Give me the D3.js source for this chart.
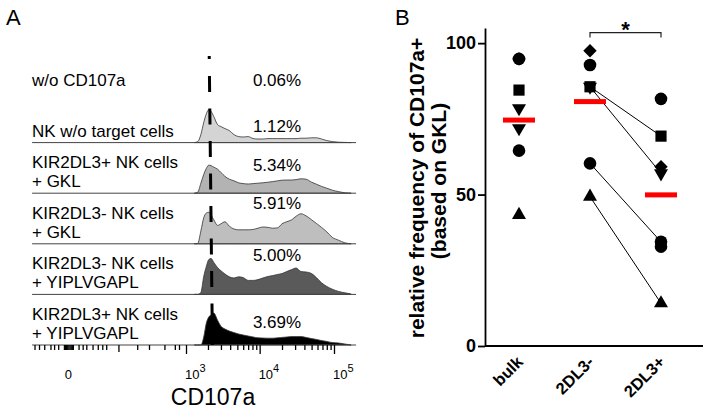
<!DOCTYPE html>
<html><head><meta charset="utf-8">
<script src="https://cdn.jsdelivr.net/npm/d3@7"></script>
<style>body{margin:0;background:#fff}svg{display:block}text{font-family:"Liberation Sans",Arial,sans-serif}</style>
</head><body><svg id="c" width="704" height="414"></svg>
<script>
// ================= Panel A data =================
const rowLabels = [["w/o CD107a"], ["NK w/o target cells"], ["KIR2DL3+ NK cells", "+ GKL"],
  ["KIR2DL3- NK cells", "+ GKL"], ["KIR2DL3- NK cells", "+ YIPLVGAPL"], ["KIR2DL3+ NK cells", "+ YIPLVGAPL"]];
const percentLabels = ["0.06%", "1.12%", "5.34%", "5.91%", "5.00%", "3.69%"];
const intensityBins = [1300,1450,1600,1750,1900,2050,2200,2400,2700,3000,3400,3900,4500,5200,6000,7000,8200,9500,
  11000,13000,15000,17500,20000,23000,27000,31000,36000,42000,50000,58000,68000,80000,95000,115000,140000,170000];
const countsNoTarget = [0,2.5,20,50,72,82,78,65,45,40,35,30,20,15,14,15,10,9,9,10,10,10,10,10,10,10,11,11,12,12,9,5,2.5,1,0.5,0];
const countsPlusGKL = [0,2.5,25,47,62,70,69,65,60,52,42,35,31,26,24,23,24,25,26,27.5,29,31,32.5,33,33,34,36,35,27.5,22.5,17,12.5,7.5,4,1,0];
const countsMinusGKL = [0,1,32,65,77,79,72,60,46,50,55,44,37,35,35,35,36,39,42,41,39,40,50,55,60,69,75,70,60,51,41,30,16,9,2.5,0];
const countsMinusYIP = [0,0,5,45,70,87,90,80,67,59,51,44,41,44,42,35,35,37,41,45,47,50,52,57,62,66,57,56,52,42,29,20,13,7.5,4,1];
const countsPlusYIP = [0,0,0,20,55,70,75,80,62,47,40,35,31,27.5,25,22.5,20,18,17.5,17,17,18,19,20,21,21,21,19,16,14,11,9,6,5,2.5,0];
const rowCounts = [null, countsNoTarget, countsPlusGKL, countsMinusGKL, countsMinusYIP, countsPlusYIP];
const gateValues = [2080, 2300];            // gate line (top, bottom)
const axisExtent = [-56, 198000];
const majorTicks = [1000, 10000, 100000];
const minorTicks = [-50,-40,-30,-20,-15,-10,-4,-3,-2,-1,0,1,2,3,4,10,15,20,30,40,50,60,200,300,500,700,800,
  2000,3000,4000,5000,6000,7000,8000,9000,20000,30000,40000,50000,60000,70000,80000,90000];
const midTicks = [100];
const tickLabelValues = [0, 1000, 10000, 100000];
const tickLabelExps = ["", "3", "4", "5"];

// ================= Panel B data =================
const categories = ["bulk", "2DL3-", "2DL3+"];
const bulkValues = [94.8, 94.8, 84.5, 78.5, 71.9, 64.5, 43.3];
const bulkShapes = ["circle", "diamond", "square", "triDown", "triDown", "circle", "triUp"];
const minusValues = [97.5, 92.8, 85.6, 85.6, 60.3, 49.3];
const minusShapes = ["diamond", "circle", "triDown", "square", "circle", "triUp"];
const plusValues = [81.6, 69.3, 59.2, 57.0, 34.4, 32.8, 14.1];
const plusShapes = ["circle", "square", "diamond", "triDown", "circle", "circle", "triUp"];
const pairs = [[3, 1], [2, 3], [4, 4], [5, 6]];   // 2DL3- index -> 2DL3+ index
const means = [74.6, 80.7, 49.9];
const yTicksB = [0, 50, 100];

// ================= Drawing =================
const svg = d3.select("#c");
const FONT = '"Liberation Sans", Arial, sans-serif';

svg.append("text").attr("x", 6).attr("y", 25).attr("font-size", 22).text("A");
svg.append("text").attr("x", 395).attr("y", 25).attr("font-size", 22).text("B");

// ---- Panel A ----
const xA = d3.scaleSymlog().constant(27).domain([1000, 100000]).range([186, 334]);
const rowY = d3.scalePoint().domain(d3.range(6)).range([92, 345]);
const hA = d3.scaleLinear().domain([0, 100]).range([0, 40]);
const fills = [null, "#d4d4d4", "#b3b3b3", "#bebebe", "#5a5a5a", "#000000"];
const pctOffsets = [-6, -11, -22, -35, -33, -17];

const gA = svg.append("g");
rowCounts.forEach((counts, i) => {
  const base = rowY(i);
  if (counts) {
    const area = d3.area()
      .x((d, j) => xA(intensityBins[j]))
      .y0(base).y1(d => base - hA(d))
      .curve(d3.curveMonotoneX);
    gA.append("path").datum(counts).attr("d", area)
      .attr("fill", fills[i]).attr("stroke", "#333").attr("stroke-width", 0.8);
    gA.append("line").attr("x1", xA(axisExtent[0])).attr("x2", xA(axisExtent[1]))
      .attr("y1", base).attr("y2", base).attr("stroke", "#444").attr("stroke-width", 1);
  }
  rowLabels[i].forEach((t, k) => {
    const n = rowLabels[i].length;
    gA.append("text").attr("x", 32).attr("y", base - 6 - (n - 1 - k) * 19)
      .attr("font-size", 17).text(t);
  });
  gA.append("text").attr("x", 277).attr("y", base + pctOffsets[i]).attr("text-anchor", "middle")
    .attr("font-size", 17).text(percentLabels[i]);
});

// gate line
const dashes = [3, 17].concat(d3.range(10).flatMap(() => [16, 16.5]));
gA.append("line").attr("x1", xA(gateValues[0])).attr("y1", 56)
  .attr("x2", xA(gateValues[1])).attr("y2", 345)
  .attr("stroke", "#000").attr("stroke-width", 3).attr("stroke-dasharray", dashes.join(","));

// axis ticks
const axisY = rowY(5);
const axMinor = d3.axisBottom(xA).tickValues(minorTicks).tickSize(5).tickFormat("");
const axMid = d3.axisBottom(xA).tickValues(midTicks).tickSize(7).tickFormat("");
const axMajor = d3.axisBottom(xA).tickValues(majorTicks).tickSize(9).tickFormat("");
[axMinor, axMid, axMajor].forEach(ax => {
  const g = gA.append("g").attr("transform", `translate(0,${axisY})`).call(ax);
  g.select(".domain").remove();
  g.selectAll(".tick line").attr("stroke", "#000").attr("stroke-width", 1.3);
});
tickLabelValues.forEach((v, i) => {
  const x = xA(v);
  if (tickLabelExps[i] === "") {
    gA.append("text").attr("x", x).attr("y", 379).attr("text-anchor", "middle").attr("font-size", 13).text("0");
  } else {
    const t = gA.append("text").attr("x", x - 1).attr("y", 379).attr("font-size", 13);
    t.append("tspan").text("10");
    t.append("tspan").attr("font-size", 11).attr("dy", -7).text(tickLabelExps[i]);
  }
});
gA.append("text").attr("x", 213).attr("y", 405).attr("text-anchor", "middle").attr("font-size", 23).text("CD107a");

// ---- Panel B ----
const yB = d3.scaleLinear().domain([0, 105]).range([346, 28]);
const xB = d3.scalePoint().domain(categories).range([519, 661]);
const gB = svg.append("g");

const axL = d3.axisLeft(yB).tickValues(yTicksB).tickSize(7).tickSizeOuter(0).tickPadding(2);
const gl = gB.append("g").attr("transform", "translate(485,0)").call(axL);
gl.select(".domain").attr("stroke", "#000").attr("stroke-width", 1.8);
gl.selectAll(".tick line").attr("stroke", "#000").attr("stroke-width", 1.8);
gl.selectAll(".tick text").attr("font-size", 18).attr("font-weight", "bold").attr("font-family", FONT).attr("fill", "#000");
gB.append("line").attr("x1", 485).attr("x2", 703).attr("y1", yB(0)).attr("y2", yB(0))
  .attr("stroke", "#000").attr("stroke-width", 1.8);

categories.forEach(c => {
  gB.append("text").attr("text-anchor", "end").attr("font-size", 16.5).attr("font-weight", "bold")
    .attr("transform", `translate(${xB(c) + 5},363) rotate(-45)`).text(c);
});

gB.append("text").attr("text-anchor", "middle").attr("font-size", 21).attr("font-weight", "bold")
  .attr("transform", "translate(424,188) rotate(-90)").text("relative frequency of CD107a+");
gB.append("text").attr("text-anchor", "middle").attr("font-size", 21).attr("font-weight", "bold")
  .attr("transform", "translate(446,181) rotate(-90)").text("(based on GKL)");

// pair lines
pairs.forEach(([a, b]) => {
  gB.append("line").attr("x1", xB("2DL3-")).attr("y1", yB(minusValues[a]))
    .attr("x2", xB("2DL3+")).attr("y2", yB(plusValues[b]))
    .attr("stroke", "#000").attr("stroke-width", 1);
});

// markers
const symbolDef = {
  circle: { type: d3.symbolCircle, size: 125, rot: 0 },
  square: { type: d3.symbolSquare, size: 125, rot: 0 },
  diamond: { type: d3.symbolSquare, size: 90, rot: 45 },
  triUp: { type: d3.symbolTriangle, size: 85, rot: 0 },
  triDown: { type: d3.symbolTriangle, size: 85, rot: 180 }
};
function drawMarkers(cat, vals, shapes) {
  vals.forEach((v, i) => {
    const s = symbolDef[shapes[i]];
    gB.append("path").attr("d", d3.symbol().type(s.type).size(s.size)())
      .attr("transform", `translate(${xB(cat)},${yB(v)}) rotate(${s.rot})`)
      .attr("fill", "#000");
  });
}
drawMarkers("bulk", bulkValues, bulkShapes);
drawMarkers("2DL3-", minusValues, minusShapes);
drawMarkers("2DL3+", plusValues, plusShapes);

// mean bars
means.forEach((m, i) => {
  gB.append("rect").attr("x", xB(categories[i]) - 16).attr("y", yB(m) - 2.5)
    .attr("width", 32).attr("height", 5).attr("fill", "#ff0000");
});

// significance bracket
const by = yB(103.5);
gB.append("path")
  .attr("d", `M${xB("2DL3-")},${by + 5}V${by}H${xB("2DL3+")}V${by + 5}`)
  .attr("fill", "none").attr("stroke", "#222").attr("stroke-width", 1.2);
gB.append("text").attr("x", (xB("2DL3-") + xB("2DL3+")) / 2).attr("y", by + 4)
  .attr("text-anchor", "middle").attr("font-size", 22).attr("font-weight", "bold").text("*");
</script></body></html>
